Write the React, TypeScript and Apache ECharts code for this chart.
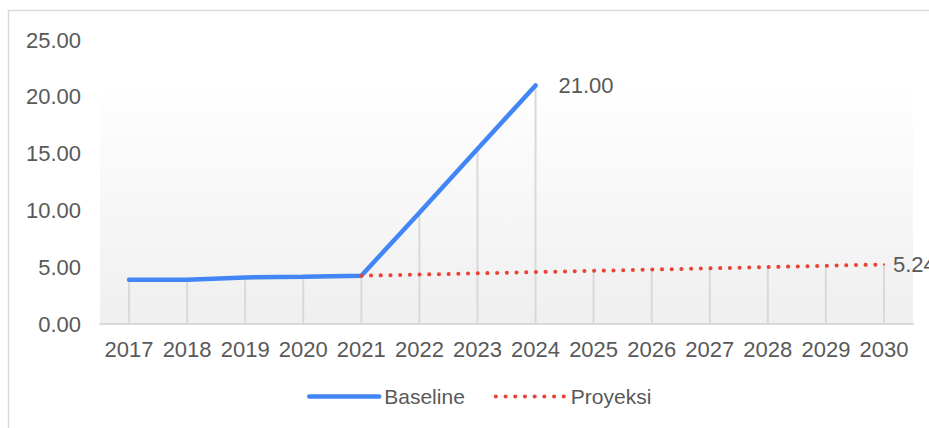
import React, { useEffect, useRef } from "react";
import * as echarts from "echarts";

const categories = ["2017","2018","2019","2020","2021","2022","2023","2024","2025","2026","2027","2028","2029","2030"];
const baseline: (number | null)[] = [3.9, 3.9, 4.1, 4.15, 4.25, 9.8, 15.4, 21.0, null, null, null, null, null, null];
const proyeksi: (number | null)[] = [null, null, null, null, 4.25, 4.35, 4.46, 4.57, 4.68, 4.79, 4.9, 5.01, 5.13, 5.24];
const yTicks = { min: 0, max: 25, interval: 5 };

const FONT = "'Liberation Sans', Arial, sans-serif";
const TXT = "#595959";
const FS = 22;

export default function App() {
  const ref = useRef<HTMLDivElement>(null);
  useEffect(() => {
    document.body.style.margin = "0";
    const chart = echarts.init(ref.current!, null, { renderer: "svg" });
    const drops = categories.map((_, i) => Math.max(baseline[i] ?? 0, proyeksi[i] ?? 0));
    const lastB = baseline.reduce((acc: number, v, i) => (v != null ? i : acc), 0);
    const lastP = proyeksi.length - 1;
    const endLabel = (distance: number, color: string, v: number | null) => ({
      value: v,
      symbol: "circle",
      symbolSize: 2,
      itemStyle: { color },
      label: {
        show: true,
        position: "right",
        distance,
        color: TXT,
        fontSize: FS,
        fontFamily: FONT,
        formatter: (p: any) => Number(p.value).toFixed(2),
      },
    });
    chart.setOption({
      animation: false,
      textStyle: { fontFamily: FONT },
      graphic: [
        {
          type: "rect",
          shape: { x: 8.5, y: 10.5, width: 1000, height: 1000 },
          style: { fill: "none", stroke: "#d9d9d9", lineWidth: 1.5 },
          silent: true,
          z: -10,
        },
      ],
      grid: {
        left: 100,
        right: 16,
        top: 40,
        bottom: 104,
        show: true,
        borderWidth: 0,
        backgroundColor: new echarts.graphic.LinearGradient(0, 0, 0, 1, [
          { offset: 0, color: "#ffffff" },
          { offset: 0.15, color: "#ffffff" },
          { offset: 1, color: "#efefef" },
        ]),
      },
      legend: {
        data: [
          { name: "Baseline", lineStyle: { width: 4.5 } },
          { name: "Proyeksi", lineStyle: { width: 4 } },
        ],
        left: 302,
        top: 381,
        itemWidth: 70,
        itemHeight: 14,
        itemGap: 29,
        itemStyle: { opacity: 0 },
        textStyle: { color: TXT, fontSize: 21, fontFamily: FONT },
      },
      xAxis: {
        type: "category",
        data: categories,
        boundaryGap: true,
        axisLine: { lineStyle: { color: "#d9d9d9", width: 2 } },
        axisTick: { show: false },
        axisLabel: { color: TXT, fontSize: FS, fontFamily: FONT, margin: 14, interval: 0 },
      },
      yAxis: {
        type: "value",
        min: yTicks.min,
        max: yTicks.max,
        interval: yTicks.interval,
        axisLine: { show: false },
        axisTick: { show: false },
        splitLine: { show: false },
        axisLabel: {
          color: TXT,
          fontSize: FS,
          fontFamily: FONT,
          margin: 19,
          formatter: (v: number) => v.toFixed(2),
        },
      },
      series: [
        {
          name: "drops",
          type: "bar",
          data: drops,
          barWidth: 2,
          itemStyle: { color: "#d9d9d9" },
          silent: true,
          z: 1,
        },
        {
          name: "Baseline",
          type: "line",
          data: baseline.map((v, i) => (i === lastB ? endLabel(22, "#4285F4", v) : v)),
          symbol: "none",
          lineStyle: { color: "#4285F4", width: 4.5, cap: "round" },
          itemStyle: { color: "#4285F4" },
          z: 3,
        },
        {
          name: "Proyeksi",
          type: "line",
          data: proyeksi.map((v, i) => (i === lastP ? endLabel(8, "#EA4335", v) : v)),
          symbol: "none",
          lineStyle: { color: "#EA4335", width: 4, type: [0.1, 9.6], cap: "round" },
          itemStyle: { color: "#EA4335" },
          z: 4,
        },
      ],
    });
    return () => chart.dispose();
  }, []);
  return <div ref={ref} style={{ width: 929, height: 428 }} />;
}
